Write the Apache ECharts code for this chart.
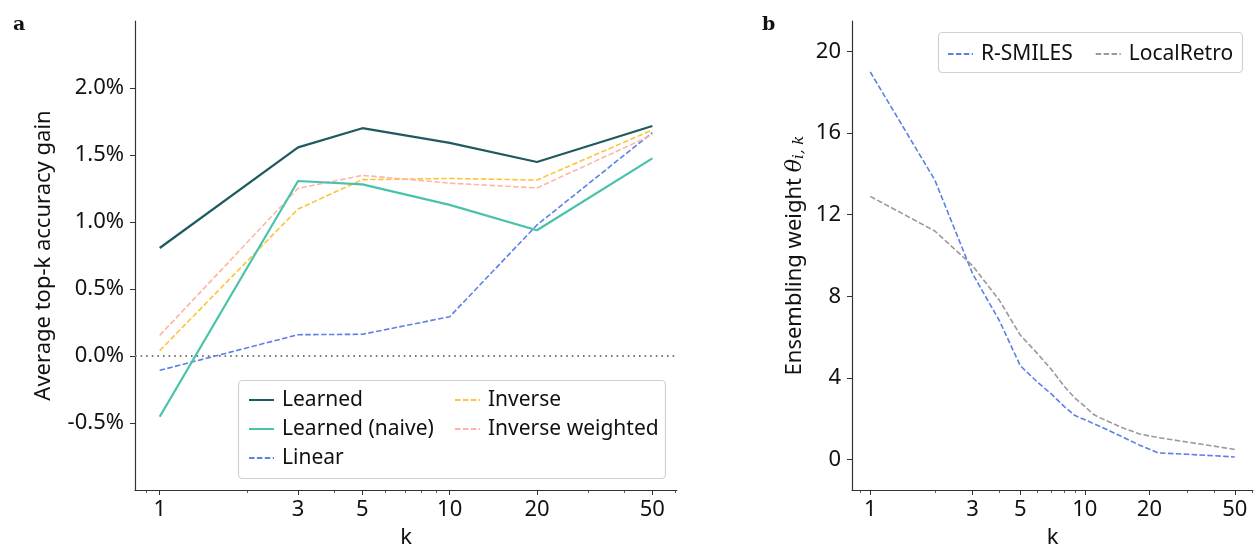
<!DOCTYPE html>
<html>
<head>
<meta charset="utf-8">
<script src="https://cdn.jsdelivr.net/npm/echarts@6/dist/echarts.min.js"></script>
<style>
html,body{margin:0;padding:0;background:#fff;overflow:hidden;}
#chart{width:1254px;height:549px;}
</style>
</head>
<body>
<div id="chart"></div>
<script>
// ---- data ----
const kLeft = [1, 3, 5, 10, 20, 50];
const learned = [0.806, 1.557, 1.70, 1.59, 1.448, 1.716];
const learnedNaive = [-0.453, 1.306, 1.281, 1.128, 0.938, 1.475];
const linear = [-0.107, 0.159, 0.162, 0.293, 0.978, 1.667];
const inverse = [0.040, 1.097, 1.316, 1.325, 1.313, 1.687];
const inverseWeighted = [0.154, 1.251, 1.348, 1.290, 1.254, 1.650];

const kRight = [1, 2, 3, 4, 5, 6, 7, 8, 9, 10, 11, 12, 15, 18, 20, 22, 30, 40, 50];
const rSmiles = [19.0, 13.7, 9.1, 6.8, 4.6, 3.8, 3.2, 2.6, 2.15, 1.95, 1.75, 1.58, 1.1, 0.7, 0.5, 0.32, 0.25, 0.18, 0.12];
const localRetro = [12.9, 11.2, 9.5, 7.8, 6.1, 5.2, 4.4, 3.6, 3.0, 2.6, 2.2, 2.0, 1.55, 1.25, 1.15, 1.07, 0.85, 0.65, 0.49];

const xMajorTicks = [1, 3, 5, 10, 20, 50];
const xMinorTicks = [0.9, 2, 4, 6, 7, 8, 9, 30, 40, 60];
const yLeftTicks = [-0.5, 0, 0.5, 1.0, 1.5, 2.0];
const yRightTicks = [0, 4, 8, 12, 16, 20];

const pairs = (xs, ys) => xs.map((x, i) => [x, ys[i]]);

const FONT = 'Noto Sans';
const axisColor = '#333333';
const dash = [5.5, 2.4];
const TICK_FS = 22;
const NAME_FS = 22;
const LEG_FS = 21;

function xAxisMajor(gridIndex) {
  return {
    type: 'log', logBase: 10, gridIndex: gridIndex,
    min: 0.822, max: 60.8,
    name: 'k', nameLocation: 'middle', nameGap: 37,
    nameTextStyle: {fontFamily: FONT, fontSize: NAME_FS, color: '#111'},
    axisLine: {show: true, onZero: false, lineStyle: {color: axisColor, width: 1.2}},
    axisTick: {show: true, length: 5, lineStyle: {color: axisColor, width: 1}, customValues: xMajorTicks},
    axisLabel: {fontFamily: FONT, fontSize: TICK_FS, color: '#111', margin: 9, customValues: xMajorTicks,
      formatter: v => String(Math.round(v))},
    splitLine: {show: false}, minorTick: {show: false}
  };
}
function xAxisMinor(gridIndex) {
  return {
    type: 'log', logBase: 10, gridIndex: gridIndex,
    min: 0.822, max: 60.8, position: 'bottom',
    axisLine: {show: false, onZero: false},
    axisTick: {show: true, length: 3, lineStyle: {color: axisColor, width: 0.8}, customValues: xMinorTicks},
    axisLabel: {show: false},
    splitLine: {show: false}
  };
}

const legendCommon = {
  itemWidth: 25, itemHeight: 12, itemGap: 7,
  itemStyle: {color: 'rgba(0,0,0,0)', borderColor: 'rgba(0,0,0,0)', borderWidth: 0, opacity: 0},
  textStyle: {fontFamily: FONT, fontSize: LEG_FS, color: '#111', lineHeight: 22, padding: [0, 0, 0, 3]}
};

const option = {
  animation: false,
  backgroundColor: '#ffffff',
  title: [
    {text: 'a', left: 8, top: 11, textStyle: {fontFamily: 'DejaVu Serif', fontWeight: 'bold', fontSize: 19, color: '#111'}},
    {text: 'b', left: 757, top: 11, textStyle: {fontFamily: 'DejaVu Serif', fontWeight: 'bold', fontSize: 19, color: '#111'}}
  ],
  grid: [
    {left: 135, top: 21, width: 542, height: 469, containLabel: false, outerBoundsMode: 'none'},
    {left: 852, top: 21, width: 401, height: 469, containLabel: false, outerBoundsMode: 'none'}
  ],
  xAxis: [xAxisMajor(0), xAxisMinor(0), xAxisMajor(1), xAxisMinor(1)],
  yAxis: [
    {
      type: 'value', gridIndex: 0, min: -1.0, max: 2.5,
      name: 'Average top-k accuracy gain', nameLocation: 'middle', nameGap: 80, nameRotate: 90,
      nameTextStyle: {fontFamily: FONT, fontSize: NAME_FS, color: '#111'},
      axisLine: {show: true, onZero: false, lineStyle: {color: axisColor, width: 1.2}},
      axisTick: {show: true, length: 5, lineStyle: {color: axisColor}, customValues: yLeftTicks},
      axisLabel: {fontFamily: FONT, fontSize: TICK_FS, color: '#111', margin: 11, customValues: yLeftTicks,
        formatter: v => v.toFixed(1) + '%'},
      splitLine: {show: false}
    },
    {
      type: 'value', gridIndex: 1, min: -1.5, max: 21.5,
      name: 'Ensembling weight {t|θ}{s|i, k}', nameLocation: 'middle', nameGap: 45, nameRotate: 90,
      nameTextStyle: {fontFamily: FONT, fontSize: NAME_FS, color: '#111',
        rich: {
          t: {fontFamily: 'DejaVu Serif', fontStyle: 'italic', fontSize: 22, color: '#111'},
          s: {fontFamily: 'DejaVu Serif', fontStyle: 'italic', fontSize: 15, color: '#111', verticalAlign: 'bottom', padding: [9, 0, 0, 0]}
        }},
      axisLine: {show: true, onZero: false, lineStyle: {color: axisColor, width: 1.2}},
      axisTick: {show: true, length: 5, lineStyle: {color: axisColor}, customValues: yRightTicks},
      axisLabel: {fontFamily: FONT, fontSize: TICK_FS, color: '#111', margin: 11, customValues: yRightTicks},
      splitLine: {show: false}
    }
  ],
  legend: [
    Object.assign({}, legendCommon, {
      data: ['Learned', 'Learned (naive)', 'Linear'],
      orient: 'vertical', left: 243, top: 384
    }),
    Object.assign({}, legendCommon, {
      data: ['Inverse', 'Inverse weighted'],
      orient: 'vertical', left: 449, top: 384
    }),
    Object.assign({}, legendCommon, {
      data: ['R-SMILES', 'LocalRetro'],
      orient: 'horizontal', left: 942, top: 38, itemGap: 22
    })
  ],
  graphic: [
    {type: 'rect', z: 0, shape: {x: 238.5, y: 380.5, width: 427, height: 98, r: 4},
      style: {fill: 'rgba(255,255,255,0.8)', stroke: '#d0d0d0', lineWidth: 1.2}},
    {type: 'rect', z: 0, shape: {x: 938.5, y: 32.5, width: 304, height: 40, r: 4},
      style: {fill: 'rgba(255,255,255,0.8)', stroke: '#d0d0d0', lineWidth: 1.2}}
  ],
  series: [
    {name: 'Learned', type: 'line', xAxisIndex: 0, yAxisIndex: 0, data: pairs(kLeft, learned),
      showSymbol: false, symbol: 'none', color: '#1f5a5e', lineStyle: {width: 2.2, color: '#1f5a5e'}, z: 5,
      markLine: {silent: true, symbol: 'none', label: {show: false},
        lineStyle: {type: [1.6, 4], color: '#7a7a7a', width: 2}, data: [{yAxis: 0}]}},
    {name: 'Learned (naive)', type: 'line', xAxisIndex: 0, yAxisIndex: 0, data: pairs(kLeft, learnedNaive),
      showSymbol: false, symbol: 'none', color: '#48c3aa', lineStyle: {width: 2.2, color: '#48c3aa'}, z: 4},
    {name: 'Linear', type: 'line', xAxisIndex: 0, yAxisIndex: 0, data: pairs(kLeft, linear),
      showSymbol: false, symbol: 'none', color: '#5b80e8', lineStyle: {width: 1.6, type: dash, color: '#5b80e8'}, z: 3},
    {name: 'Inverse', type: 'line', xAxisIndex: 0, yAxisIndex: 0, data: pairs(kLeft, inverse),
      showSymbol: false, symbol: 'none', color: '#fdc43a', lineStyle: {width: 1.6, type: dash, color: '#fdc43a'}, z: 3},
    {name: 'Inverse weighted', type: 'line', xAxisIndex: 0, yAxisIndex: 0, data: pairs(kLeft, inverseWeighted),
      showSymbol: false, symbol: 'none', color: '#ffb5a8', lineStyle: {width: 1.6, type: dash, color: '#ffb5a8'}, z: 3},
    {name: 'R-SMILES', type: 'line', xAxisIndex: 2, yAxisIndex: 1, data: pairs(kRight, rSmiles),
      showSymbol: false, symbol: 'none', color: '#5b80e8', lineStyle: {width: 1.6, type: dash, color: '#5b80e8'}},
    {name: 'LocalRetro', type: 'line', xAxisIndex: 2, yAxisIndex: 1, data: pairs(kRight, localRetro),
      showSymbol: false, symbol: 'none', color: '#9a9a9a', lineStyle: {width: 1.6, type: dash, color: '#9a9a9a'}}
  ]
};

const chart = echarts.init(document.getElementById('chart'), null, {renderer: 'canvas'});
chart.setOption(option);
</script>
</body>
</html>
